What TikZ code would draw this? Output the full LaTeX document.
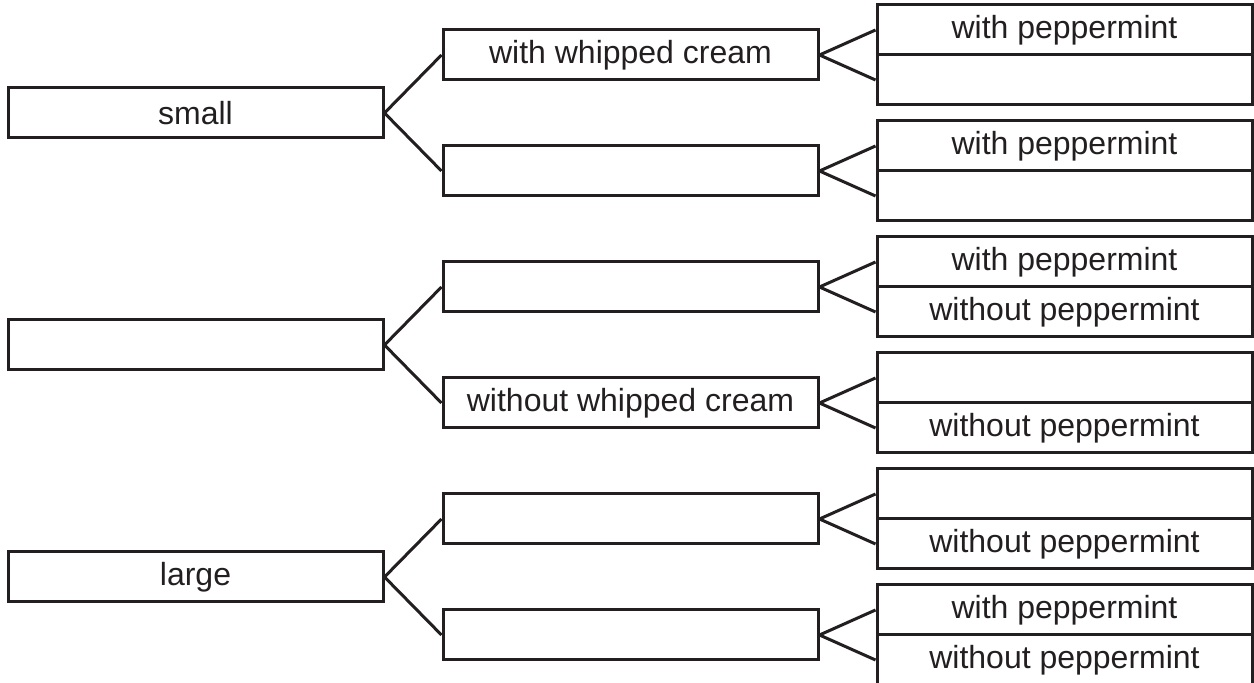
\documentclass[tikz,border=0pt]{standalone}
\usepackage{fontspec}
\setmainfont{Liberation Sans}
\definecolor{ink}{HTML}{231F20}
\tikzset{box/.style={draw=ink,text=ink,rectangle,minimum width=187.5pt,minimum height=25pt,inner sep=0pt}}
\begin{document}
\begin{tikzpicture}[x=0.5pt,y=-0.5pt,line width=1.5pt,font=\fontsize{16}{19}\selectfont]
        \useasboundingbox (0,0) rectangle (1254,683);
        % first column
        \node[box] (sm) at (195.5,113) {small};
        \node[box] (md) at (195.5,345) {};
        \node[box] (lg) at (195.5,577) {large};
        % second column
        \node[box] (w1) at (630.5,55) {with whipped cream};
        \node[box] (w2) at (630.5,171) {};
        \node[box] (w3) at (630.5,287) {};
        \node[box] (w4) at (630.5,403) {without whipped cream};
        \node[box] (w5) at (630.5,519) {};
        \node[box] (w6) at (630.5,635) {};
        % third column
        \node[box] (p1) at (1064.5,30) {with peppermint};
        \node[box] (q1) at (1064.5,80) {};
        \node[box] (p2) at (1064.5,146) {with peppermint};
        \node[box] (q2) at (1064.5,196) {};
        \node[box] (p3) at (1064.5,262) {with peppermint};
        \node[box] (q3) at (1064.5,312) {without peppermint};
        \node[box] (p4) at (1064.5,378) {};
        \node[box] (q4) at (1064.5,428) {without peppermint};
        \node[box] (p5) at (1064.5,494) {};
        \node[box] (q5) at (1064.5,544) {without peppermint};
        \node[box] (p6) at (1064.5,610) {with peppermint};
        \node[box] (q6) at (1064.5,660) {without peppermint};
        \draw[ink] (sm.east) -- (w1.west) (sm.east) -- (w2.west)
                   (md.east) -- (w3.west) (md.east) -- (w4.west)
                   (lg.east) -- (w5.west) (lg.east) -- (w6.west);
        \draw[ink] (w1.east) -- (p1.west) (w1.east) -- (q1.west)
                   (w2.east) -- (p2.west) (w2.east) -- (q2.west)
                   (w3.east) -- (p3.west) (w3.east) -- (q3.west)
                   (w4.east) -- (p4.west) (w4.east) -- (q4.west)
                   (w5.east) -- (p5.west) (w5.east) -- (q5.west)
                   (w6.east) -- (p6.west) (w6.east) -- (q6.west);
      \end{tikzpicture}
\end{document}
